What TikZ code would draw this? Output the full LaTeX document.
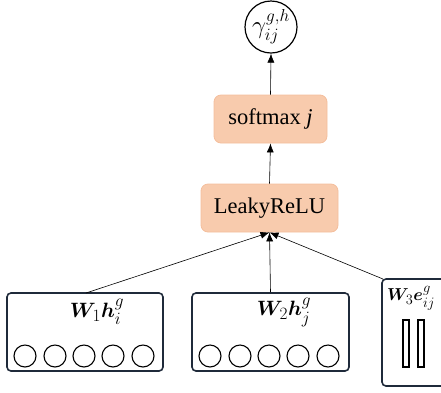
\documentclass[tikz,border=0pt]{standalone}
\usepackage{amsmath,bm}
\usepackage{fontspec}
\setmainfont{Liberation Serif}
\usetikzlibrary{arrows.meta}
\DeclareMathSizes{21}{21}{16}{13}
\DeclareMathSizes{19}{19}{15}{12}
\DeclareMathSizes{24}{24}{18}{14}
\definecolor{peach}{HTML}{F8CBAD}
\definecolor{peachline}{HTML}{F4BE9C}
\definecolor{navy}{HTML}{1F2A3A}
\tikzset{
  opbox/.style={draw=peachline, line width=0.8pt, fill=peach, rounded corners=7pt, minimum height=48pt, inner sep=0pt, font=\fontsize{22.5}{26}\selectfont},
  vecbox/.style={draw=navy, line width=1.6pt, rounded corners=4pt, minimum height=78pt, inner sep=0pt},
  unit/.style={draw, circle, line width=1.1pt, minimum size=22pt, inner sep=0pt},
  bar/.style={draw, line width=1.1pt, minimum width=6pt, minimum height=47pt, inner sep=0pt},
  lbl/.style={font=\fontsize{21}{24}\selectfont, inner sep=0pt},
  conn/.style={line width=0.6pt, -{Latex[length=9pt,width=7pt]}},
}
\begin{document}
\begin{tikzpicture}[x=1pt,y=-1pt]
\useasboundingbox (0,0) rectangle (441,392);
\node[draw, circle, line width=1.2pt, minimum size=52pt, inner sep=0pt, font=\fontsize{24}{26}\selectfont] (gam) at (271,27) {$\gamma_{ij}^{g,h}$};
\node[opbox, minimum width=113pt] (soft) at (270.5,119) {softmax \textit{j}};
\node[opbox, minimum width=137pt] (leaky) at (269.5,208) {LeakyReLU};
\node[vecbox, minimum width=156pt] (b1) at (85,332) {};
\node[vecbox, minimum width=157pt] (b2) at (270.5,332) {};
\node[vecbox, minimum width=70pt, minimum height=107pt] (b3) at (417,332.5) {};
\node[lbl] (l1) at (97,312) {$\bm{W}_1\bm{h}_i^g$};
\node[lbl] (l2) at (284,312) {$\bm{W}_2\bm{h}_j^g$};
\node[lbl, font=\fontsize{19}{22}\selectfont] (l3) at (411,298) {$\bm{W}_3\bm{e}_{ij}^g$};
\foreach \i/\x in {1/25,2/55,3/84,4/113,5/143}{
  \node[unit] (c1\i) at (\x,356) {};
}
\foreach \i/\x in {1/210,2/240,3/269,4/298,5/328}{
  \node[unit] (c2\i) at (\x,356) {};
}
\node[bar] (r1) at (406,343.5) {};
\node[bar] (r2) at (421,343.5) {};
\coordinate (t1) at (86,293);
\coordinate (t3) at (383,279);
\draw[conn] (t1) -- (leaky.south);
\draw[conn] (b2.north) -- (leaky.south);
\draw[conn] (t3) -- (leaky.south);
\draw[conn] (leaky.north) -- (soft.south);
\draw[conn] (soft.north) -- (gam.south);
\end{tikzpicture}
\end{document}
